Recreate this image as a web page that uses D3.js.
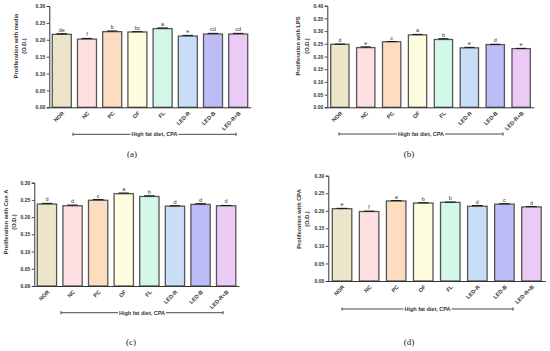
<!DOCTYPE html>
<html><head><meta charset="utf-8">
<script src="https://cdn.jsdelivr.net/npm/d3@7"></script>
<style>body{margin:0;background:#fff}svg{display:block}</style>
</head><body><svg id="c" width="550" height="351"></svg>
<script>
const categories = ["NOR","NC","PC","OF","FL","LED-R","LED-B","LED-R+B"];
const barColors = ["#ece5c9","#fde0e1","#fedcc0","#fefde0","#d3f8e7","#c9ddf6","#bcbcf7","#ebcaf6"];

const mediaValues  = [0.216,0.202,0.224,0.223,0.233,0.211,0.217,0.217];
const mediaErrors  = [0.002,0.002,0.002,0.001,0.002,0.002,0.002,0.002];
const mediaLetters = ["de","f","b","bc","a","e","cd","cd"];

const lpsValues  = [0.248,0.235,0.258,0.285,0.267,0.234,0.247,0.231];
const lpsErrors  = [0.001,0.003,0.001,0.002,0.003,0.002,0.001,0.001];
const lpsLetters = ["d","e","c","a","b","e","d","e"];

const conaValues  = [0.238,0.233,0.249,0.268,0.260,0.232,0.237,0.233];
const conaErrors  = [0.002,0.002,0.002,0.002,0.002,0.001,0.002,0.001];
const conaLetters = ["d","d","c","a","b","d","d","d"];

const cpaValues  = [0.206,0.198,0.228,0.222,0.224,0.213,0.219,0.211];
const cpaErrors  = [0.001,0.001,0.001,0.001,0.001,0.002,0.001,0.001];
const cpaLetters = ["e","f","a","b","b","d","c","d"];

const yTicks30 = [0,0.05,0.10,0.15,0.20,0.25,0.30];
const yTicks40 = [0,0.05,0.10,0.15,0.20,0.25,0.30,0.35,0.40];

const bracketLabel = "High fat diet, CPA";

const panels = [
  {values:mediaValues, errors:mediaErrors, letters:mediaLetters, ticks:yTicks30, yMax:0.30,
   title:"Proliferation with media", axisX:49.3, y0:107.3, yTop:6, step:25.2, bw:19, off:3,
   titleX:16, odX:24, titleY:46, br:[73,236,134.3], lab:[132,157,"(a)"]},
  {values:lpsValues, errors:lpsErrors, letters:lpsLetters, ticks:yTicks40, yMax:0.40,
   title:"Proliferation with LPS", axisX:327.3, y0:107.3, yTop:5.7, step:25.9, bw:18.3, off:3.4,
   titleX:298.3, odX:306.7, titleY:46, br:[339,503,134], lab:[409,157,"(b)"]},
  {values:conaValues, errors:conaErrors, letters:conaLetters, ticks:yTicks30, yMax:0.30,
   title:"Proliferation with Con A", axisX:34.3, y0:286, yTop:182.7, step:25.6, bw:19.3, off:3,
   titleX:6, odX:14, titleY:222, br:[61,223,312.7], lab:[131,345,"(c)"]},
  {values:cpaValues, errors:cpaErrors, letters:cpaLetters, ticks:yTicks30, yMax:0.30,
   title:"Proliferation with CPA", axisX:328.3, y0:281, yTop:175.7, step:27.06, bw:19.5, off:4,
   titleX:299, odX:307, titleY:219, br:[342,513,309], lab:[409,345,"(d)"]}
];

const svg = d3.select("#c");
const fmt = d3.format(".2f");
const axisColor = "#333";
const sans = "Liberation Sans, Arial, sans-serif";

panels.forEach(p => {
  const n = categories.length;
  const pi = 1 - p.bw / p.step;
  const po = p.off / p.step;
  const x1 = p.axisX + p.step * (n - pi + 2 * po);
  const x = d3.scaleBand().domain(categories).range([p.axisX, x1]).paddingInner(pi).paddingOuter(po);
  const y = d3.scaleLinear().domain([0, p.yMax]).range([p.y0, p.yTop]);
  const g = svg.append("g");

  // bars
  g.selectAll("rect.bar").data(categories).enter().append("rect")
    .attr("x", d => x(d)).attr("width", x.bandwidth())
    .attr("y", (d,i) => y(p.values[i])).attr("height", (d,i) => y(0) - y(p.values[i]))
    .attr("fill", (d,i) => barColors[i]).attr("stroke", "#555").attr("stroke-width", 1.3);

  // error bars
  const cap = x.bandwidth() * 0.55;
  categories.forEach((d,i) => {
    const cx = x(d) + x.bandwidth()/2;
    const yt = y(p.values[i] + p.errors[i]);
    const yb = y(p.values[i]);
    g.append("line").attr("x1", cx).attr("x2", cx).attr("y1", yt).attr("y2", yb)
      .attr("stroke", "#111").attr("stroke-width", 1);
    g.append("line").attr("x1", cx - cap/2).attr("x2", cx + cap/2).attr("y1", yt).attr("y2", yt)
      .attr("stroke", "#111").attr("stroke-width", 1);
    g.append("text").attr("x", cx).attr("y", yt - 2).attr("text-anchor", "middle")
      .attr("font-family", sans).attr("font-size", 5.5).attr("fill", "#333")
      .text(p.letters[i]);
  });

  // y axis
  const ya = d3.axisLeft(y).tickValues(p.ticks).tickFormat(fmt).tickSize(2.5).tickPadding(1.5);
  const yg = g.append("g").attr("transform", `translate(${p.axisX},0)`).call(ya);
  yg.select(".domain").attr("stroke", axisColor).attr("stroke-width", 1);
  yg.selectAll(".tick line").attr("stroke", axisColor).attr("stroke-width", 0.9);
  yg.selectAll(".tick text").attr("font-family", sans).attr("font-size", 5).attr("font-weight", "bold").attr("fill", "#333");

  // x axis
  const xa = d3.axisBottom(x).tickSize(0).tickSizeOuter(0);
  const xg = g.append("g").attr("transform", `translate(0,${p.y0})`).call(xa);
  xg.select(".domain").attr("stroke", axisColor).attr("stroke-width", 1);
  xg.selectAll(".tick text")
    .attr("font-family", sans).attr("font-size", 5.5).attr("font-weight", "bold").attr("fill", "#333")
    .attr("text-anchor", "end").attr("y", 0).attr("dy", "0.35em")
    .attr("transform", "translate(1.5,5) rotate(-45)");

  // y title
  const tt = g.append("text").attr("font-family", sans).attr("font-size", 5.7).attr("font-weight", "bold")
    .attr("fill", "#333").attr("text-anchor", "middle");
  tt.append("tspan").attr("x", 0).attr("y", 0).text(p.title);
  tt.append("tspan").attr("x", 0).attr("y", p.odX - p.titleX).text("(O.D.)");
  tt.attr("transform", `translate(${p.titleX + 2},${p.titleY}) rotate(-90)`);

  // bracket
  const [bx1, bx2, by] = p.br;
  const bg = g.append("g");
  const tmid = (bx1 + bx2) / 2;
  const bt = bg.append("text").attr("x", tmid).attr("y", by).attr("dy", "0.35em")
    .attr("text-anchor", "middle").attr("font-family", sans).attr("font-size", 5.5)
    .attr("font-weight", "bold").attr("fill", "#333").text(bracketLabel);
  const tw = bt.node().getComputedTextLength();
  bg.append("line").attr("x1", bx1).attr("x2", tmid - tw/2 - 1).attr("y1", by).attr("y2", by)
    .attr("stroke", "#333").attr("stroke-width", 0.9);
  bg.append("line").attr("x1", tmid + tw/2 + 1).attr("x2", bx2).attr("y1", by).attr("y2", by)
    .attr("stroke", "#333").attr("stroke-width", 0.9);
  [bx1, bx2].forEach(bx => bg.append("line").attr("x1", bx).attr("x2", bx)
    .attr("y1", by - 1.6).attr("y2", by + 1.6).attr("stroke", "#333").attr("stroke-width", 0.9));

  // panel label
  g.append("text").attr("x", p.lab[0]).attr("y", p.lab[1]).attr("text-anchor", "middle")
    .attr("font-family", "Liberation Serif, Times New Roman, serif").attr("font-size", 9)
    .attr("fill", "#222").text(p.lab[2]);
});
</script>
</body></html>
